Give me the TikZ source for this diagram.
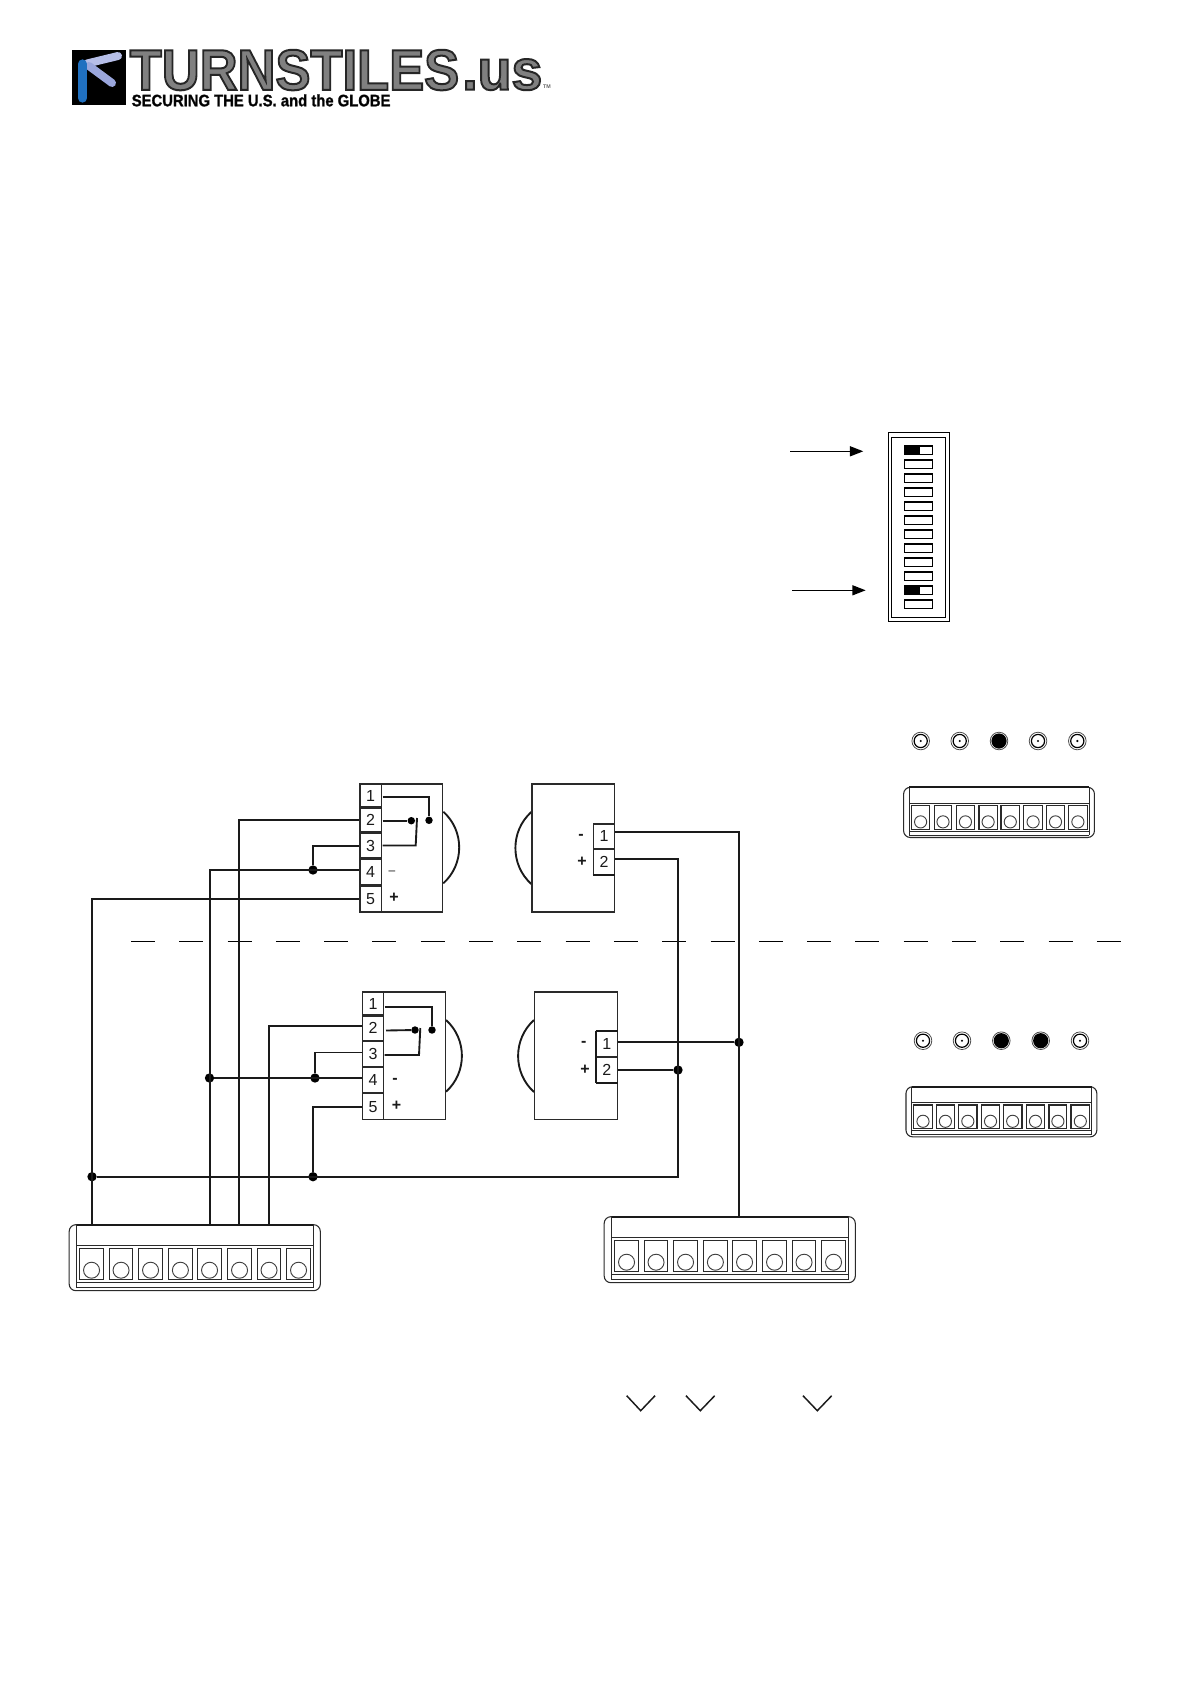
\documentclass[tikz,border=0pt]{standalone}
\usepackage{fontspec}
\setmainfont{Liberation Sans}
\usetikzlibrary{arrows.meta}
\definecolor{ink}{HTML}{1A1A1A}
\definecolor{frameink}{HTML}{2A2A2A}
\definecolor{iconblue}{HTML}{2070C0}
\definecolor{iconpale}{HTML}{B6BEE8}
\definecolor{iconmid}{HTML}{9AA6DC}
\tikzset{
  wire/.style={draw=ink,line width=1.4pt},
  thinbox/.style={draw=frameink,line width=1.1pt},
  joint/.style={circle,fill=black,inner sep=0pt,minimum size=7pt},
  smalljoint/.style={circle,fill=black,inner sep=0pt,minimum size=5.6pt},
  digit/.style={font=\fontsize{12}{14}\selectfont,inner sep=0pt,text=ink},
  sym/.style={font=\fontsize{12}{12}\selectfont\bfseries,inner sep=0pt,text=ink},
  longarrow/.style={draw=black,line width=1pt,-{Triangle[length=10pt,width=7.5pt]}},
  tick/.style={draw=ink,line width=1.1pt},
  dashrule/.style={draw=black,line width=0.9pt,dash pattern=on 18pt off 18.22pt},
  logotext/.style={inner sep=0pt,anchor=north west}
}
% text filled with the current colour and stroked in dark grey
\newcommand{\stroked}[2]{\special{pdf:code 2 Tr #1 w 0.15 0.15 0.15 RG}\bfseries #2\special{pdf:code 0 Tr}}
% terminal block: origin = left end of the top rule
\newcommand{\tblock}[3]{%
  \begin{scope}[shift={(#1,#2)},x=#3*0.75pt,y=-#3*0.75pt]
    \draw[line width=0.8pt,draw=frameink,rounded corners=5pt] (-7.5,0) rectangle (243.6,66);
    \fill[white] (0,0.5) rectangle (236.6,64);
    \draw[line width=0.9pt,draw=frameink] (0,0) -- (0,63) (236.6,0) -- (236.6,63);
    \draw[line width=1.6pt,draw=ink] (0,0) -- (236.6,0);
    \draw[line width=0.9pt,draw=frameink] (0,21) -- (236.6,21) (0,58) -- (236.6,58) (0,63) -- (236.6,63);
    \foreach \a/\b in {2.7/27,32.7/56,61.7/86,91.7/115.7,120.7/145,150.7/175,180.7/204,209.7/234}{
      \draw[line width=0.9pt,draw=frameink] (\a,24) rectangle (\b,55);
      \draw[line width=0.7pt,draw=black!75] ({(\a+\b)/2},45.5) circle[radius=8];
    }
  \end{scope}}
\newcommand{\bulgeR}[3]{\draw[line width=1.4pt,draw=ink] (#1,#2) .. controls (#1+21.2,#2+19) and (#1+21.2,#3-19) .. (#1,#3);}
\newcommand{\bulgeL}[3]{\draw[line width=1.4pt,draw=ink] (#1,#2) .. controls (#1-21.2,#2+19) and (#1-21.2,#3-19) .. (#1,#3);}
% cell{name}{xl}{yt}{xr}{yb}{text}
\newcommand{\cell}[6]{\node[thinbox,digit,minimum width={(#4-#2)*0.75pt-1.1pt},minimum height={(#5-#3)*0.75pt-1.1pt},inner sep=0pt] (#1) at ({(#2+#4)/2},{(#3+#5)/2}) {#6};}
\newcommand{\ledoff}[2]{\draw[line width=0.6pt,draw=black!70] (#1,#2) circle[radius=8.8];\draw[line width=0.9pt,draw=black] (#1,#2) circle[radius=6.6];\fill[black] (#1,#2) circle[radius=1.2];}
\newcommand{\ledon}[2]{\draw[line width=0.6pt,draw=black!70] (#1,#2) circle[radius=8.8];\fill[black] (#1,#2) circle[radius=7.6];}
\begin{document}
\begin{tikzpicture}[x=0.75pt,y=-0.75pt]
\useasboundingbox (0,0) rectangle (1192,1685);
\fill[white] (0,0) rectangle (1192,1685);
% logo
\fill[black] (72,50) rectangle (126,105);
\draw[line width=6pt,line cap=round,draw=iconpale] (87,63.5) -- (118,56);
\draw[line width=6pt,line cap=round,draw=iconmid] (89,66) -- (112,83);
\draw[line width=7pt,line cap=round,draw=iconblue] (82.5,64) -- (82.5,98);
\node[logotext,text=black!50] (logoA) at (129.5,49.5) {\resizebox{247pt}{30pt}{\stroked{0.35}{TURNSTILES}}};
\node[logotext,text=black!50,anchor=south west] (logoC) at (462,90.5) {\resizebox{60pt}{23pt}{\stroked{0.35}{.us}}};
\node[logotext,text=black] (logoE) at (131.5,94) {\resizebox{194pt}{9pt}{\stroked{0.2}{SECURING THE U.S. and the GLOBE}}};
\node[inner sep=0pt,text=black!60,font=\fontsize{4}{4}\selectfont\bfseries] (logoF) at (547,87) {TM};
% DIP switch
\draw[line width=1pt,draw=black] (888.3,432.7) rectangle (949.3,621.3);
\draw[line width=1pt,draw=black] (891.3,437.3) rectangle (945.3,617.3);
\foreach \k in {0,...,11}{
  \draw[line width=0.9pt,draw=black] (904.3,446+14*\k) rectangle (932.7,454.7+14*\k);
}
\fill[black] (904.3,446) rectangle (920,454.7);
\fill[black] (904.3,446+140) rectangle (920,454.7+140);
\coordinate (arrA) at (790,451.3); \coordinate (tipA) at (863.3,451.3);
\coordinate (arrB) at (792,590.3); \coordinate (tipB) at (865.7,590.3);
\draw[longarrow] (arrA) -- (tipA);
\draw[longarrow] (arrB) -- (tipB);
% LED rows
\ledoff{920.7}{741}\ledoff{959.7}{741}\ledon{999}{741}\ledoff{1038}{741}\ledoff{1077.3}{741}
\ledoff{923}{1040.7}\ledoff{962}{1040.7}\ledon{1001.3}{1040.7}\ledon{1040.7}{1040.7}\ledoff{1080}{1040.7}
% terminal blocks
\tblock{909.3}{787.3}{0.76}
\tblock{911.7}{1086.7}{0.76}
\tblock{76.7}{1224.7}{1}
\tblock{611.7}{1216.7}{1}
% dashed rule
\coordinate (dashA) at (131,941.3); \coordinate (dashB) at (1122,941.3);
\draw[dashrule] (dashA) -- (dashB);
% sensor 1 (top, left)
\bulgeR{443.3}{811.7}{883.3}
\node[thinbox,minimum width={84*0.75pt-1.1pt},minimum height={129.4*0.75pt-1.1pt},fill=white,inner sep=0pt] (sa) at (401.3,848) {};
\cell{sa1}{359.3}{783.3}{382}{807.7}{1}
\cell{sa2}{359.3}{807.7}{382}{832.7}{2}
\cell{sa3}{359.3}{832.7}{382}{858.7}{3}
\cell{sa4}{359.3}{858.7}{382}{885.3}{4}
\cell{sa5}{359.3}{885.3}{382}{912.7}{5}
\node[inner sep=0pt,font=\fontsize{9}{9}\selectfont,text=ink] (samin) at (392,873) {–};
\node[sym] (saplus) at (394,898) {+};
% sensor 1 (top, right)
\bulgeL{531.3}{812}{884}
\node[thinbox,minimum width={84*0.75pt-1.1pt},minimum height={129.4*0.75pt-1.1pt},fill=white,inner sep=0pt] (ra) at (573.3,848) {};
\cell{ra1}{592.7}{823.3}{615.3}{849}{1}
\cell{ra2}{592.7}{849}{615.3}{875.3}{2}
\draw[wire] (592.7,875.3) -- (615.3,875.3);
\node[sym] (ramin) at (581,836.7) {-};
\node[sym] (raplus) at (582,862) {+};
% sensor 2 (bottom, left)
\bulgeR{446}{1020}{1091.7}
\node[thinbox,minimum width={84*0.75pt-1.1pt},minimum height={129*0.75pt-1.1pt},fill=white,inner sep=0pt] (sb) at (404,1055.8) {};
\cell{sb1}{362}{991.3}{384}{1015.7}{1}
\cell{sb2}{362}{1015.7}{384}{1041}{2}
\cell{sb3}{362}{1041}{384}{1067}{3}
\cell{sb4}{362}{1067}{384}{1093}{4}
\cell{sb5}{362}{1093}{384}{1120.3}{5}
\node[sym] (sbmin) at (395,1080.7) {-};
\node[sym] (sbplus) at (396.5,1106) {+};
% sensor 2 (bottom, right)
\bulgeL{534}{1020}{1092}
\node[thinbox,minimum width={84*0.75pt-1.1pt},minimum height={129*0.75pt-1.1pt},fill=white,inner sep=0pt] (rb) at (576,1055.8) {};
\cell{rb1}{595.7}{1031}{618}{1057}{1}
\cell{rb2}{595.7}{1057}{618}{1083}{2}
\draw[wire] (595.7,1031) -- (618,1031) (595.7,1083) -- (618,1083) (595.7,1031) -- (595.7,1083);
\node[sym] (rbmin) at (583.7,1044.3) {-};
\node[sym] (rbplus) at (585,1070) {+};
% named ends
\coordinate (pa1i) at (382.5,796.7); \coordinate (pa2i) at (382.5,820.7); \coordinate (pa3i) at (382.5,845.5);
\coordinate (pb1i) at (384.5,1006.7); \coordinate (pb2i) at (386,1030.5); \coordinate (pb3i) at (384.5,1055);
\coordinate (pa2) at (359.3,820); \coordinate (pa3) at (359.3,845.7); \coordinate (pa4) at (359.3,870); \coordinate (pa5) at (359.3,899);
\coordinate (pb2) at (362,1025.7); \coordinate (pb3) at (362,1052.5); \coordinate (pb4) at (362,1078); \coordinate (pb5) at (362,1107);
\coordinate (qa1) at (615.3,831.7); \coordinate (qa2) at (615.3,859.3);
\coordinate (qb1) at (618,1042.3); \coordinate (qb2) at (618,1070);
\coordinate (la) at (92,1224.7); \coordinate (lb) at (209.7,1224.7); \coordinate (lc) at (239,1224.7); \coordinate (ld) at (269,1224.7);
\coordinate (rc) at (739,1216.7);
% joints
\node[smalljoint] (ja1) at (429,820.3) {};
\node[smalljoint] (ja2) at (411.3,820.7) {};
\node[smalljoint] (jb1) at (432,1030) {};
\node[smalljoint] (jb2) at (415,1030) {};
\node[joint] (j34a) at (313,870) {};
\node[joint] (j34b) at (315,1078) {};
\node[joint] (jl4) at (209.5,1078) {};
\node[joint] (jl5) at (92,1176.7) {};
\node[joint] (j5b) at (313,1176.7) {};
\node[joint] (jr1) at (739,1042.3) {};
\node[joint] (jr2) at (678,1070) {};
% inner wires
\draw[wire] (pa1i) -| (ja1);
\draw[wire] (pa2i) -- (ja2);
\draw[wire] (pa3i) -- (415.7,845.5) -- (417,818);
\draw[wire] (pb1i) -| (jb1);
\draw[wire] (pb2i) -- (jb2);
\draw[wire] (pb3i) -- (419,1055) -- (420.3,1028);
% outer wires
\draw[wire] (la) |- (pa5);
\draw[wire] (lb) |- (pa4);
\draw[wire] (lc) |- (pa2);
\draw[wire] (ld) |- (pb2);
\draw[wire] (pa3) -| (j34a);
\draw[wire] (pb3) -| (j34b);
\draw[wire] (jl4) -- (pb4);
\draw[wire] (pb5) -| (j5b);
\draw[wire] (jl5) -- (678,1176.7) -- (678,859.3) -- (qa2);
\draw[wire] (qb2) -- (jr2);
\draw[wire] (qb1) -- (jr1);
\draw[wire] (rc) -- (739,831.7) -- (qa1);
% ticks
\draw[tick] (626.7,1395.7) -- (640.7,1410.7) -- (655,1395.7);
\draw[tick] (686,1395.7) -- (700.3,1410.7) -- (714.7,1395.7);
\draw[tick] (803,1395.7) -- (817.3,1410.7) -- (831.7,1395.7);
\end{tikzpicture}
\end{document}
